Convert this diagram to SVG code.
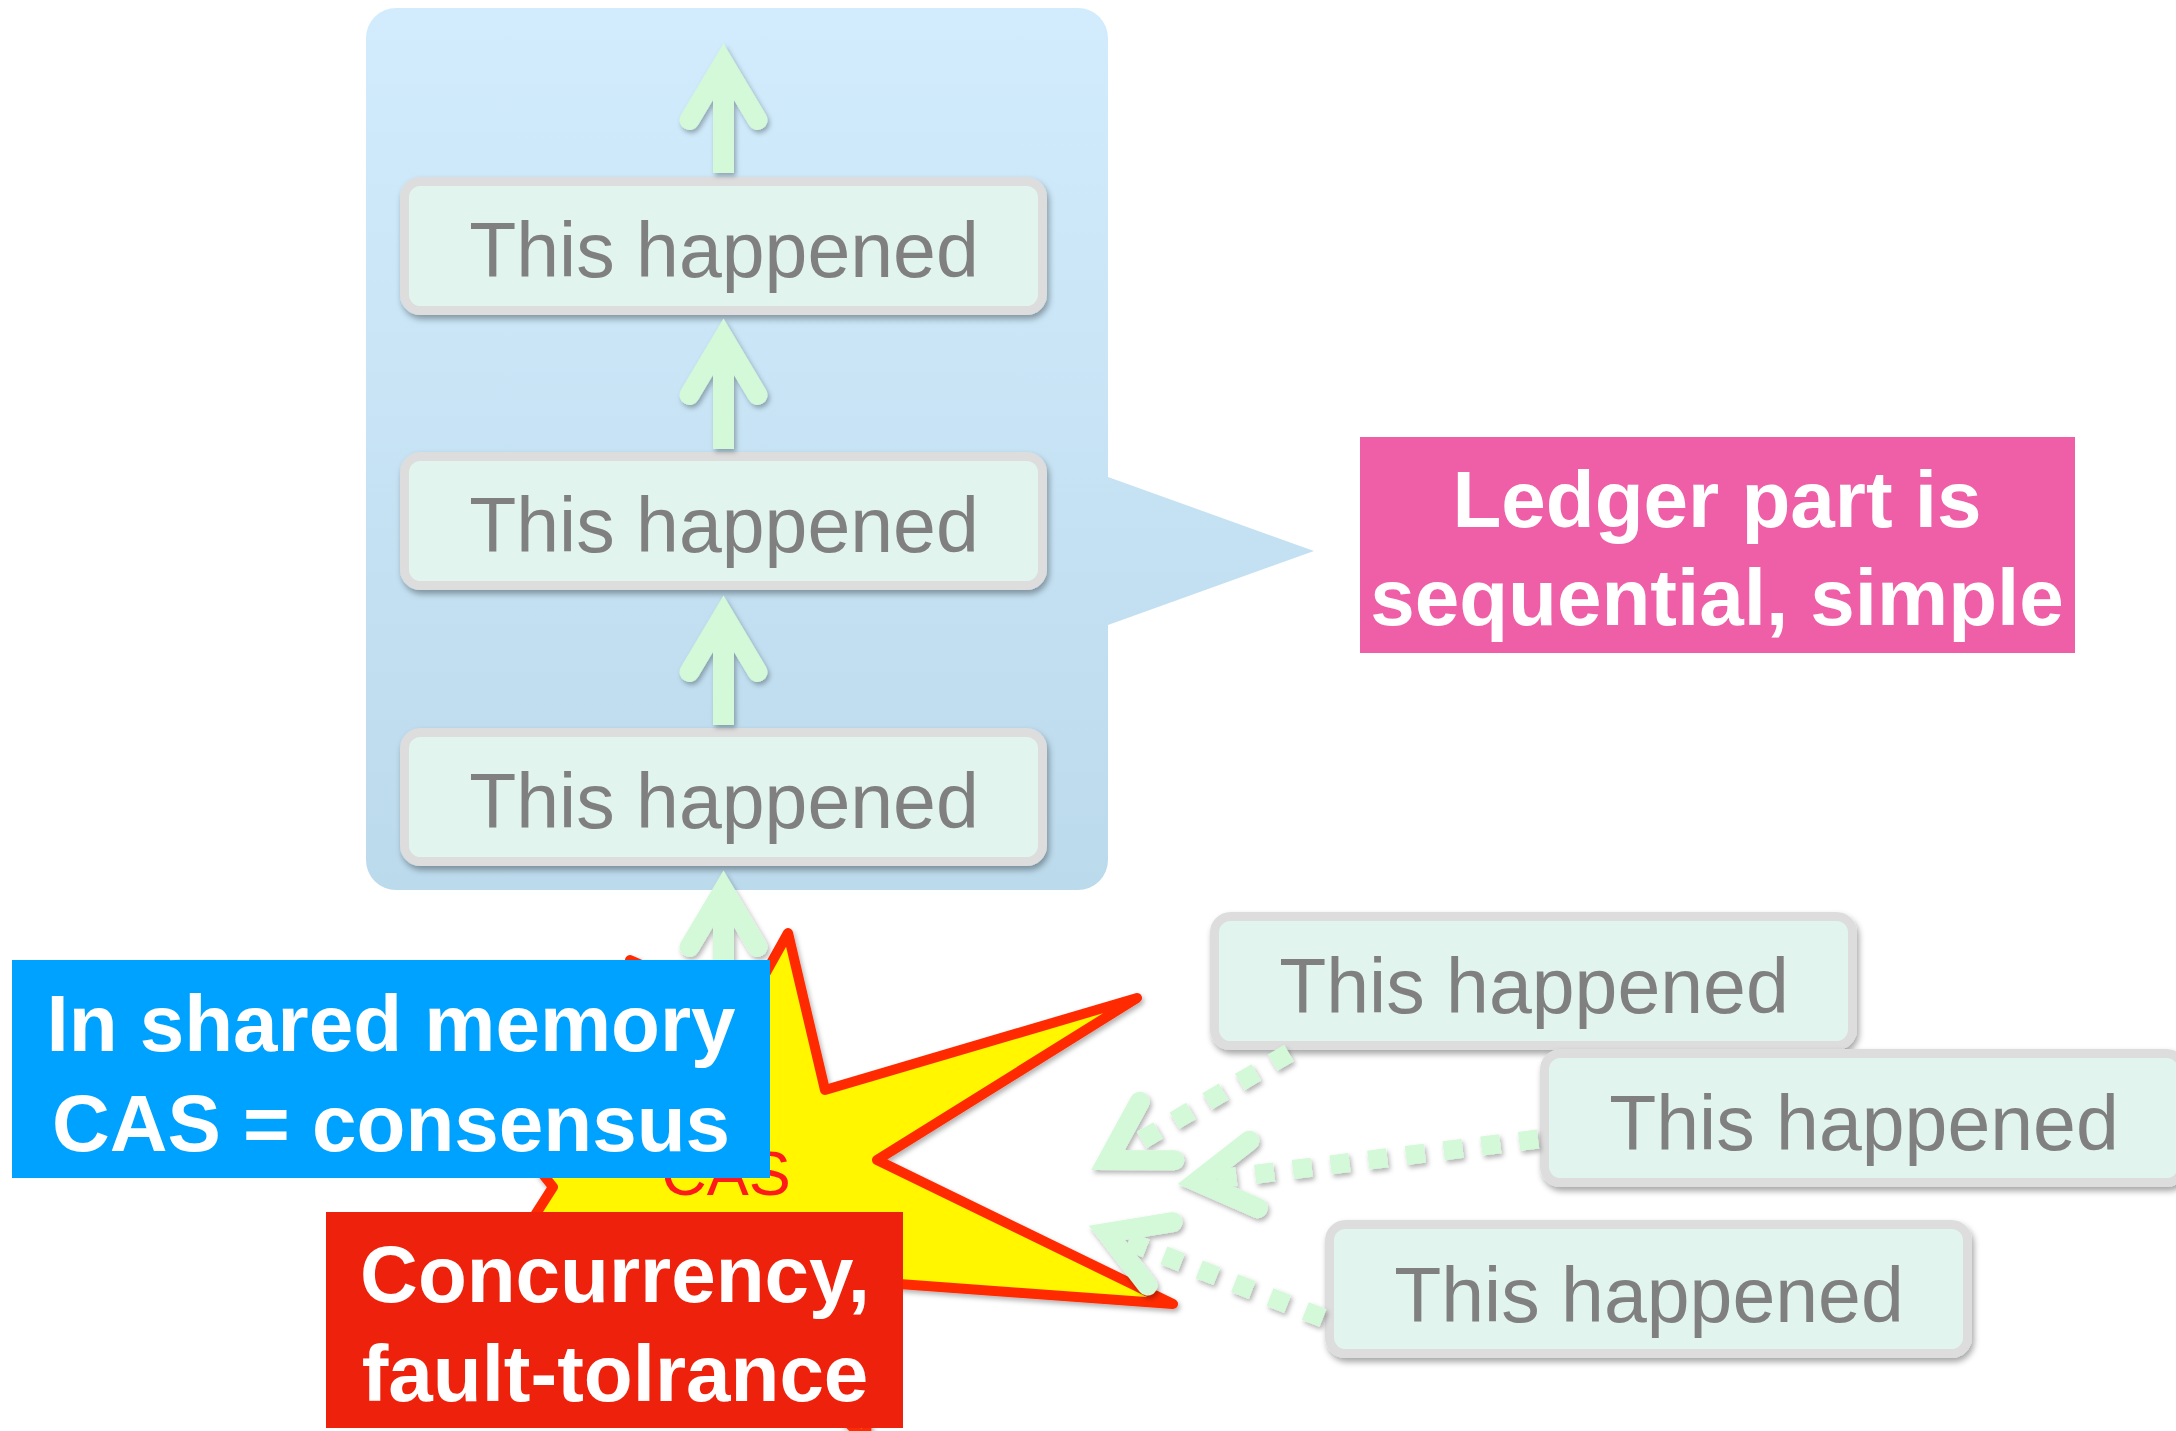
<svg xmlns="http://www.w3.org/2000/svg" width="2176" height="1431" viewBox="0 0 2176 1431">
  <defs>
    <linearGradient id="containerGrad" gradientUnits="userSpaceOnUse" x1="0" y1="8" x2="0" y2="890">
      <stop offset="0" stop-color="#D2ECFD"/>
      <stop offset="1" stop-color="#BBDAEC"/>
    </linearGradient>
    <filter id="shadow" x="-10%" y="-10%" width="120%" height="130%">
      <feDropShadow dx="2" dy="4" stdDeviation="3" flood-color="#000" flood-opacity="0.35"/>
    </filter>
    <filter id="shadowSoft" x="-10%" y="-10%" width="120%" height="130%">
      <feDropShadow dx="2" dy="3" stdDeviation="2.5" flood-color="#000" flood-opacity="0.3"/>
    </filter>
    <marker id="chev" markerUnits="userSpaceOnUse" orient="auto" refX="0" refY="0" markerWidth="10" markerHeight="10" overflow="visible">
      <path d="M -57,-34 L 0,0 L -57,34" fill="none" stroke="#D3F9D8" stroke-width="20" stroke-linecap="round" stroke-linejoin="miter" stroke-miterlimit="10" stroke-dasharray="none"/>
    </marker>
  </defs>
  <style>
    .box { fill: #E2F4EE; stroke: #DDDDDD; stroke-width: 9; filter: url(#shadow); }
    .boxText { font-family: "Liberation Sans", Arial, sans-serif; font-size: 77px; fill: #808080; text-anchor: middle; }
    .labelText { font-family: "Liberation Sans", Arial, sans-serif; font-weight: bold; font-size: 80px; fill: #FFFFFF; text-anchor: middle; }
    .solid { fill: none; stroke: #D3F9D8; stroke-width: 21; stroke-linecap: butt; marker-end: url(#chev); }
    .dotted { fill: none; stroke: #D3F9D8; stroke-width: 19; stroke-dasharray: 19 19; stroke-linecap: butt; marker-end: url(#chev); }
  </style>
  <rect x="0" y="0" width="2176" height="1431" fill="#FFFFFF"/>

  <g id="ledger-container">
    <path d="M 396,8 H 1078 A 30 30 0 0 1 1108,38 V 477 L 1314,551 L 1108,625 V 860 A 30 30 0 0 1 1078,890 H 396 A 30 30 0 0 1 366,860 V 38 A 30 30 0 0 1 396,8 Z" fill="url(#containerGrad)"/>
  </g>

  <g id="node-ledger-1">
    <rect class="box" x="404.5" y="181.5" width="638" height="129" rx="16"/>
    <text class="boxText" x="724" y="277">This happened</text>
  </g>
  <g id="node-ledger-2">
    <rect class="box" x="404.5" y="456.5" width="638" height="129" rx="16"/>
    <text class="boxText" x="724" y="552">This happened</text>
  </g>
  <g id="node-ledger-3">
    <rect class="box" x="404.5" y="732.5" width="638" height="129" rx="16"/>
    <text class="boxText" x="724" y="828">This happened</text>
  </g>

  <g id="node-event-1">
    <rect class="box" x="1214.5" y="916.5" width="638" height="129" rx="16"/>
    <text class="boxText" x="1534" y="1013">This happened</text>
  </g>
  <g id="node-event-2">
    <rect class="box" x="1544.5" y="1053.5" width="638" height="129" rx="16"/>
    <text class="boxText" x="1864" y="1150">This happened</text>
  </g>
  <g id="node-event-3">
    <rect class="box" x="1329.5" y="1224.5" width="638" height="129" rx="16"/>
    <text class="boxText" x="1649" y="1322">This happened</text>
  </g>

  <g id="node-cas-star">
    <path d="M 788,933 L 825,1090 L 1137,998 L 877,1160 L 1173,1304 L 872,1282 L 866,1440 L 720,1300 L 470,1317 L 553,1187 L 393,987 L 600,1070 L 630,960 L 745,1010 Z" fill="#FFF600" stroke="#FF2A00" stroke-width="10" stroke-linejoin="round" filter="url(#shadowSoft)"/>
    <text x="726" y="1195" font-family="'Liberation Sans', Arial, sans-serif" font-size="63" fill="#FF1A1A" text-anchor="middle">CAS</text>
  </g>

  <g id="connectors" filter="url(#shadowSoft)">
    <path class="solid" d="M 723.5,173 V 63"/>
    <path class="solid" d="M 723.5,449 V 338"/>
    <path class="solid" d="M 723.5,725 V 615"/>
    <path class="solid" d="M 723.5,1010 V 890"/>
    <path class="dotted" d="M 1289,1053 L 1108,1160"/>
    <path class="dotted" d="M 1538,1139 L 1197,1181.5"/>
    <path class="dotted" d="M 1323,1318 L 1107,1233"/>
  </g>

  <g id="label-shared-memory">
    <rect x="12" y="960" width="758" height="218" fill="#00A2FF"/>
    <text class="labelText" x="391" y="1051">In shared memory</text>
    <text class="labelText" x="391" y="1151">CAS = consensus</text>
  </g>

  <g id="label-concurrency">
    <rect x="326" y="1212" width="577" height="216" fill="#EE220C"/>
    <text class="labelText" x="615" y="1302">Concurrency,</text>
    <text class="labelText" x="615" y="1401">fault-tolrance</text>
  </g>

  <g id="label-ledger">
    <rect x="1360" y="437" width="715" height="216" fill="#EE5FA7"/>
    <text class="labelText" x="1717" y="527">Ledger part is</text>
    <text class="labelText" x="1717" y="625">sequential, simple</text>
  </g>
</svg>
